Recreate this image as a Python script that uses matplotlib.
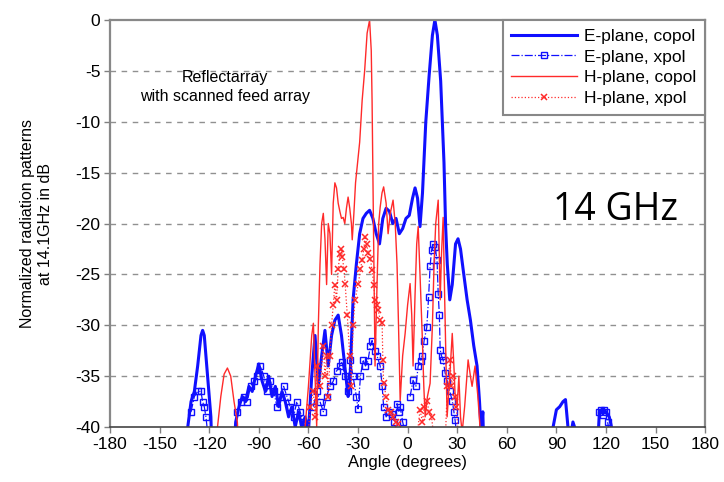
import numpy as np
import matplotlib.pyplot as plt

nan = np.nan

# E-plane, copol
e_co_ang = [-135, -133, -131, -129, -127, -125, -124, -123, -121, -119, -118,
            -106, -104, -102, -100, -98, -96, -94, -92, -90, -88, -86, -84, -82,
            -80, -78, -76, -74, -72, -70, -68, -66, -64, -62, -60, -58, -56, -54,
            -52, -50, -48, -46, -44, -42, -40, -38, -36, -35, -33, -31, -29, -27,
            -25, -23, -21, -19, -17, -15, -13, -11, -9, -7, -5, -3, -1, 1, 3, 4.5,
            6, 7.5, 9, 11, 13, 15, 16.5, 18, 20, 22, 23, 24, 25.5, 27, 29, 30.5,
            32, 33.5, 36, 38, 40, 42, 43.5, 44.5, 45.5, 46.5,
            86, 88, 90, 92, 94, 95.5, 97, 99, 100, 102, 103,
            114, 116, 118, 120, 122, 124, 125]
e_co_val = [-45, -40, -37.5, -36.5, -34, -31, -30.5, -31, -35, -39, -45,
            -45, -39.5, -38, -37, -37.5, -36, -36.5, -35, -33.8, -35.5, -36.5, -35,
            -37, -36, -38, -36.5, -37.5, -39, -38, -40, -38.5, -40, -39, -40.5, -35,
            -31, -36, -33, -30.5, -34, -31, -29.5, -29, -31, -34, -37, -36, -27.5,
            -24, -21, -19.5, -19, -18.7, -19.5, -21, -22, -19.5, -18.5, -18.8, -20,
            -19.5, -21, -20.5, -19.5, -19.2, -17.5, -16.5, -17.5, -20.3, -17, -10,
            -5.5, -1.5, 0, -1.5, -6, -14, -20.3, -24, -27.5, -26, -22, -21.5, -22.5,
            -24.4, -27.5, -29.5, -32, -34, -37.5, -40.5, -38.5, -45,
            -45, -40, -38.3, -38, -37.5, -37.3, -40, -40.5, -39.5, -40.5, -45,
            -45, -38.5, -38.2, -38.5, -39, -40.5, -45]

# E-plane, xpol
e_x_ang = [-131, -129, -127, -125, -124, -123, -122, -121, nan,
           -103, -101, -99, -97, -95, -93, -91, -89, -87, -85, -83, -81, -79, -77,
           -75, -73, -71, -69, -67, -65, -63, -61, nan,
           -57, -55, -53, -51, -49, -47, -45, -43, -41, -39.6, -38, -36, -34.8,
           -33, -31, -30, -28.5, -27, -25.5, -24, -22.5, -21.5, -20, -18.5, -16.6,
           -15.4, -14.5, -13, -11.5, -9.4, -8, -6.4, -5.5, -4.5, -3, -1.5, nan,
           1.5, 3.3, 5, 6.4, 7.8, 8.8, 10, 11.6, 12.7, 13.6, 14.5, 15.5, 16.6, 17.8,
           18.5, 19.2, 19.7, 20.5, 21.5, 22.7, 24, 25.5, 27, 28, 28.7, 29.5, nan,
           116, 117, 118, 119, 120, 121, 122]
e_x_val = [-38.5, -37, -36.5, -36.5, -37.5, -38, -39, -40.5, nan,
           -38.5, -37.5, -37, -37.5, -36, -35.5, -35, -34, -35, -36.5, -35.5,
           -36.5, -38, -37, -36, -37, -38, -39, -37.5, -38.5, -39.5, -40.5, nan,
           -38, -36.5, -37.5, -38.5, -37, -36, -35.5, -34.5, -34, -33.6, -35,
           -36.5, -33.4, -35, -37, -38.2, -35, -33.4, -34, -33.5, -32, -31.5,
           -32.5, -33, -34, -36, -38, -39, -38.5, -38.7, -39.5, -37.7, -38.5, -38,
           -39.5, -40.5, nan,
           -37, -35.4, -36, -34, -33.5, -33, -31.5, -30.2, -27.2, -24.2, -22.6,
           -22, -22.3, -23.6, -26.9, -29, -32.4, -33, -33.4, -34.7, -35.5, -36.5,
           -37.4, -38.5, -39.3, -40.5, nan,
           -38.5, -38.3, -38.8, -38.3, -38.5, -39.5, -40.5]

# H-plane, copol
h_co_ang = [-117, -115, -113, -111, -109, -107, -105, -103, -101,
            -64, -62, -60, -58, -57, -56, -55, -54, -53, -52, -51, -50, -49, -48,
            -47, -46, -45, -44, -43, -42, -41, -40, -39, -38, -37, -36, -35, -34,
            -33.5, -32.5, -31.5, -30.5, -29, -27.5, -26, -24.5, -23, -22, -21.5,
            -20.6, -19.7, -18.5, -17.5, -16.6, -15.5, -14.5, -13, -11.8, -10.5,
            -8.8, -7.5, -6.4, -5.5, -4.5, -3, -1.5, 0, 1.5, 2.5, 3.3, 4.5, 5.5, 6.4,
            7.5, 8.8, 9.8, 10.6, 12, 13.6, 15, 16, 17, 18.5, 19.7, 20.5, 21.5, 22.5,
            23.9, 25.5, 27, 28, 28.7, 30, 31, 32, 33, 34.5, 36.6, 38, 39, 40.8, 42.5,
            44, 45]
h_co_val = [-45, -40, -37, -34.8, -34.2, -35, -37.5, -39.5, -45,
            -45, -40, -36, -31, -29.8, -35, -40, -30, -24, -20, -19, -21.5, -26,
            -20, -21, -25, -18, -16, -16.5, -18, -18.8, -19.5, -19.4, -20, -18.5,
            -17.4, -18.5, -20, -21.6, -19, -16, -14.4, -12, -7.9, -5, -1.3, 0, -3,
            -7.9, -21, -34, -26, -20, -18.4, -17, -16.4, -18, -21, -19, -17.7, -20,
            -24, -30, -37.4, -33, -30.8, -28, -25.9, -29, -34, -27, -22, -20.3, -25,
            -30.8, -36, -39, -37, -35.7, -30, -24, -20, -17.7, -27.5, -23, -19.4,
            -28, -39, -35, -30.8, -34, -36.7, -38, -35, -39, -40.5, -38, -33.4, -35,
            -36, -34, -37, -40.5, -45]

# H-plane, xpol
h_x_ang = [-60, -59, -57, -56, -55, -53, -51, -50, -49, -48, -47, -46, -45, -44,
           -43, -42, -41, -40, -39.5, -38.5, -37.8, -36.5, -35, -34, -33, -31.8,
           -29.8, -28.5, -27.5, -26.5, -25.7, -24.8, -23.8, -22.5, -21.5, -20.5,
           -19.7, -18.7, -17.8, -16.6, -15.4, -15, -14.5, -13, -11.8, -10, -8.8, -7,
           -5.8, -4.5, nan,
           6, 7.5, 9, 10, 11.6, 13, 14.5, 15.5, nan,
           23, 24, 25.7, 26.5, 27.5, 28.5, 29.5, 30.5]
h_x_val = [-40.5, -38, -36.5, -39, -34, -36, -32, -35, -33, -37, -33, -30, -28,
           -26, -27.5, -24.5, -23, -22.5, -23.3, -24.5, -25.9, -29, -33, -36, -30,
           -27.5, -25.9, -24.5, -23.6, -22.5, -21.3, -22, -22.9, -23.5, -24.6, -26,
           -27.5, -28, -28.5, -29.5, -29.8, -33.4, -35.7, -37, -38.3, -38.5, -39,
           -39.5, -39.7, -40.5, nan,
           -40.5, -38.3, -39.5, -38, -37.4, -38.5, -39, -40.5, nan,
           -40.5, -36, -33.4, -36, -35, -37, -38, -40.5]

x_ticks = list(range(-180, 181, 30))
y_ticks = list(range(-40, 1, 5))

plt.rcParams["font.family"] = ["Liberation Sans", "DejaVu Sans"]
plt.rcParams["axes.unicode_minus"] = False

fig = plt.figure(figsize=(7.24, 4.82), dpi=100)
ax = fig.add_axes([0.152, 0.114, 0.822, 0.8445])

blue = "#1010ff"
red = "#ff2a2a"

ax.plot(e_co_ang, e_co_val, color=blue, lw=2.2, label="E-plane, copol")
ax.plot(e_x_ang, e_x_val, color=blue, lw=0.9, ls="-.", marker="s", ms=4.2,
        mfc="none", mew=1.0, label="E-plane, xpol")
ax.plot(h_co_ang, h_co_val, color=red, lw=1.0, label="H-plane, copol")
ax.plot(h_x_ang, h_x_val, color=red, lw=0.9, ls=":", marker="x", ms=5,
        mew=1.1, label="H-plane, xpol")

ax.set_xlim(-180, 180)
ax.set_ylim(-40, 0)
ax.set_xticks(x_ticks)
ax.set_yticks(y_ticks)
ax.tick_params(labelsize=12.5, color="#808080", length=4, width=1, pad=3)
for y in y_ticks[1:-1]:
    ax.axhline(y, color="#909090", lw=1, ls=(0, (4, 4)), zorder=0)
for s in ["top", "right", "left"]:
    ax.spines[s].set_color("#888888")
    ax.spines[s].set_linewidth(1.6)
ax.spines["bottom"].set_color("#444444")
ax.spines["bottom"].set_linewidth(1.2)

ax.set_xlabel("Angle (degrees)", fontsize=12, labelpad=2)
ax.set_ylabel("Normalized radiation patterns\nat 14.1GHz in dB", fontsize=11.5,
              labelpad=16)

ax.text(0.193, 0.8345, "Reflectarray\nwith scanned feed array", transform=ax.transAxes,
        ha="center", va="center", fontsize=11.5, linespacing=1.35)
ax.text(0.849, 0.533, "14 GHz", transform=ax.transAxes, ha="center", va="center",
        fontsize=27, family=["Open Sans", "DejaVu Sans"])

leg = ax.legend(loc="upper right", bbox_to_anchor=(1, 1), borderaxespad=0,
                fontsize=12.5, handlelength=3.8, fancybox=False, framealpha=1,
                edgecolor="#888888", labelspacing=0.32, borderpad=0.5,
                handletextpad=0.4)
leg.get_frame().set_linewidth(1.5)

fig.savefig("out.png", dpi=100)
